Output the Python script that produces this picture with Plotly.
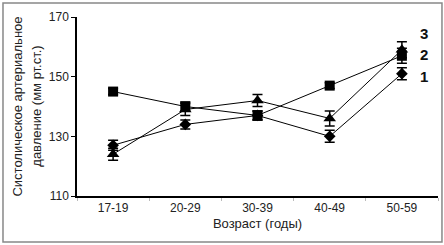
import plotly.graph_objects as go

categories = ["17-19", "20-29", "30-39", "40-49", "50-59"]
s1_values = [127, 134, 137, 130, 151]
s1_errors = [1.7, 1.5, 1.5, 2, 2]
s2_values = [145, 140, 137, 147, 157]
s2_errors = [1, 1.5, 1.5, 1, 2.5]
s3_values = [124, 139, 142, 136, 159]
s3_errors = [2, 2, 2, 2.5, 2.7]
series_labels = ["1", "2", "3"]
label_y = [150, 157.3, 164.6]
y_ticks = [110, 130, 150, 170]
y_title_lines = ["Систолическое артериальное", "давление (мм рт.ст.)"]

fig = go.Figure()
specs = [
    (s1_values, s1_errors, "diamond", 9),
    (s2_values, s2_errors, "square", 10),
    (s3_values, s3_errors, "triangle-up", 11),
]
for vals, errs, sym, sz in specs:
    fig.add_trace(go.Scatter(
        x=categories, y=vals, mode="lines+markers",
        line=dict(color="black", width=1),
        marker=dict(symbol=sym, size=sz, color="black"),
        error_y=dict(type="data", array=errs, visible=True, color="black",
                     thickness=1.5, width=5),
        showlegend=False, cliponaxis=False,
    ))

for lab, yv in zip(series_labels, label_y):
    fig.add_annotation(x=4.22, y=yv, xref="x", yref="y", text="<b>" + lab + "</b>",
                       showarrow=False, xanchor="left",
                       font=dict(size=15, color="#111", family="Liberation Sans"))

for txt, xp in zip(y_title_lines, [-0.166, -0.113]):
    fig.add_annotation(x=xp, y=0.5, xref="paper", yref="paper", text=txt,
                       textangle=-90, showarrow=False, xanchor="center", yanchor="middle",
                       font=dict(size=13, color="#222", family="Liberation Sans"))

fig.add_shape(type="rect", xref="paper", yref="paper",
              x0=-0.205, x1=1.011, y0=-0.257, y1=1.078,
              line=dict(color="#888", width=1.5), layer="below")

fig.update_layout(
    width=444, height=245,
    margin=dict(l=77, r=6, t=17, b=49, autoexpand=False),
    paper_bgcolor="white", plot_bgcolor="white",
    font=dict(family="Liberation Sans", size=12, color="#222"),
    xaxis=dict(type="category", showline=True, linecolor="black", linewidth=1.5,
               ticks="outside", tickson="boundaries", ticklen=3, tickcolor="#bbb",
               showgrid=False, range=[-0.5, 4.5], automargin=False,
               title=dict(text="Возраст (годы)", font=dict(size=13), standoff=5)),
    yaxis=dict(range=[110, 170], tickvals=y_ticks, showline=True, linecolor="black",
               linewidth=1.5, ticks="outside", ticklen=4, tickcolor="black",
               showgrid=False, zeroline=False, automargin=False),
)

fig.write_html("out.html", config={"displayModeBar": False},
               post_script="document.body.style.margin='0';document.body.style.overflow='hidden';")
